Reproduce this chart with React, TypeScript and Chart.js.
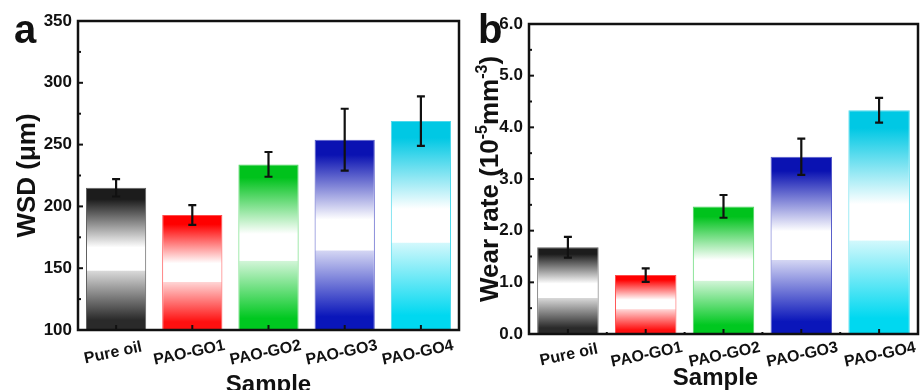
import React, { useEffect, useRef } from "react";
import { Chart, registerables } from "chart.js";

Chart.register(...registerables);

// ---- data ----
const categories = ["Pure oil", "PAO-GO1", "PAO-GO2", "PAO-GO3", "PAO-GO4"];
const wsdValues = [215, 193, 234, 254, 269];
const wsdErrors = [7, 8, 10, 25, 20];
const wearValues = [1.68, 1.14, 2.47, 3.43, 4.33];
const wearErrors = [0.2, 0.13, 0.22, 0.35, 0.24];
const wsdTickRange = [100, 350, 50];
const wearTickRange = [0, 6, 1];
const barTopColors = ["#1c1c1c", "#ff0000", "#00c21c", "#0a12b2", "#00c8e4"];
const barBottomColors = ["#2a2a2a", "#ff1010", "#00c820", "#0a16ba", "#00d8f0"];

const FONT = "'Liberation Sans', Arial, Helvetica, sans-serif";

function hexToRgb(h: string) {
  const n = parseInt(h.slice(1), 16);
  return [(n >> 16) & 255, (n >> 8) & 255, n & 255];
}
function mix(h: string, t: number) {
  const [r, g, b] = hexToRgb(h);
  const f = (c: number) => Math.round(c + (255 - c) * t);
  return `rgb(${f(r)},${f(g)},${f(b)})`;
}

type Part = { text: string; sup?: boolean };
type Panel = {
  letter: string;
  values: number[];
  errors: number[];
  range: number[];
  decimals: number;
  width: number;
  height: number;
  area: { left: number; right: number; top: number; bottom: number };
  titleParts: Part[];
  titleX: number;
  letterX: number;
  labelDx: number;
  labelDy: number;
  sampleBaseline: number;
  sampleDx: number;
  xMinor: boolean;
};

function makePlugin(p: Panel) {
  return {
    id: "custom" + p.letter,
    afterDatasetsDraw(chart: any) {
      const ctx = chart.ctx;
      const xs = chart.scales.x;
      const ys = chart.scales.y;
      ctx.save();
      ctx.strokeStyle = "#111";
      ctx.lineWidth = 2.2;
      p.values.forEach((v, i) => {
        const cx = xs.getPixelForValue(i);
        const t = ys.getPixelForValue(v + p.errors[i]);
        const b = ys.getPixelForValue(v - p.errors[i]);
        ctx.beginPath();
        ctx.moveTo(cx, t);
        ctx.lineTo(cx, b);
        ctx.moveTo(cx - 4, t);
        ctx.lineTo(cx + 4, t);
        ctx.moveTo(cx - 4, b);
        ctx.lineTo(cx + 4, b);
        ctx.stroke();
      });
      ctx.restore();
    },
    afterDraw(chart: any) {
      const ctx = chart.ctx;
      const a = chart.chartArea;
      const xs = chart.scales.x;
      const ys = chart.scales.y;
      ctx.save();
      ctx.strokeStyle = "#111";
      ctx.fillStyle = "#111";
      // ticks on y (inward)
      ctx.lineWidth = 2;
      const [mn, mx, st] = p.range;
      for (let v = mn; v <= mx + 1e-9; v += st / 2) {
        const py = ys.getPixelForValue(v);
        const major = Math.abs((v - mn) / st - Math.round((v - mn) / st)) < 1e-6;
        const len = major ? 5 : 3;
        ctx.beginPath();
        ctx.moveTo(a.left, py);
        ctx.lineTo(a.left + len, py);
        ctx.stroke();
      }
      // x ticks (inward)
      categories.forEach((_, i) => {
        const cx = xs.getPixelForValue(i);
        ctx.beginPath();
        ctx.moveTo(cx, a.bottom);
        ctx.lineTo(cx, a.bottom - 5);
        ctx.stroke();
        if (p.xMinor && i > 0) {
          const mxp = (cx + xs.getPixelForValue(i - 1)) / 2;
          ctx.beginPath();
          ctx.moveTo(mxp, a.bottom);
          ctx.lineTo(mxp, a.bottom - 2);
          ctx.stroke();
        }
      });
      // frame
      ctx.lineWidth = 2.5;
      ctx.strokeRect(a.left, a.top, a.right - a.left, a.bottom - a.top);
      // x labels
      ctx.font = `bold 16px ${FONT}`;
      ctx.textAlign = "center";
      ctx.textBaseline = "middle";
      categories.forEach((c, i) => {
        const cx = xs.getPixelForValue(i);
        ctx.save();
        ctx.translate(cx + p.labelDx, a.bottom + p.labelDy);
        ctx.rotate((-12 * Math.PI) / 180);
        ctx.fillText(c, 0, 0);
        ctx.restore();
      });
      // x title
      ctx.font = `bold 24px ${FONT}`;
      ctx.textBaseline = "alphabetic";
      ctx.fillText("Sample", (a.left + a.right) / 2 + p.sampleDx, p.sampleBaseline);
      // y title with superscripts
      const main = `bold 26px ${FONT}`;
      const sup = `bold 16px ${FONT}`;
      let total = 0;
      const widths = p.titleParts.map((pt) => {
        ctx.font = pt.sup ? sup : main;
        const w = ctx.measureText(pt.text).width;
        total += w;
        return w;
      });
      ctx.save();
      ctx.translate(p.titleX, (a.top + a.bottom) / 2);
      ctx.rotate(-Math.PI / 2);
      ctx.textAlign = "left";
      let xx = -total / 2;
      p.titleParts.forEach((pt, i) => {
        ctx.font = pt.sup ? sup : main;
        ctx.fillText(pt.text, xx, pt.sup ? -11 : 0);
        xx += widths[i];
      });
      ctx.restore();
      // panel letter
      ctx.font = `bold 40px ${FONT}`;
      ctx.textAlign = "left";
      ctx.fillText(p.letter, p.letterX, 43);
      ctx.restore();
    },
  };
}

function PanelChart({ p, left }: { p: Panel; left: number }) {
  const ref = useRef<HTMLCanvasElement | null>(null);
  useEffect(() => {
    if (!ref.current) return;
    const chart = new Chart(ref.current, {
      type: "bar",
      data: {
        labels: categories,
        datasets: [
          {
            data: p.values,
            barPercentage: 0.79,
            categoryPercentage: 1,
            borderWidth: 1,
            borderColor: barTopColors.map((c) => mix(c, 0.3)),
            backgroundColor: (ctx: any) => {
              const i = ctx.dataIndex;
              if (i === undefined) return barTopColors[0];
              const chart = ctx.chart;
              if (!chart.chartArea || !chart.scales.y) return barTopColors[i];
              const ys = chart.scales.y;
              const top = ys.getPixelForValue(p.values[i]);
              const bot = ys.getPixelForValue(ys.min);
              const c0 = barTopColors[i];
              const c1 = barBottomColors[i];
              const g = chart.ctx.createLinearGradient(0, top, 0, bot);
              g.addColorStop(0, c0);
              g.addColorStop(0.08, c0);
              g.addColorStop(0.42, "#ffffff");
              g.addColorStop(0.58, "#ffffff");
              g.addColorStop(0.585, mix(c1, 0.82));
              g.addColorStop(0.93, c1);
              g.addColorStop(1, c1);
              return g;
            },
          },
        ],
      },
      options: {
        responsive: false,
        animation: false,
        layout: {
          padding: {
            top: p.area.top,
            right: p.width - p.area.right,
            left: 0,
            bottom: 0,
          },
        },
        plugins: {
          legend: { display: false },
          tooltip: { enabled: false },
        },
        scales: {
          x: {
            type: "category",
            grid: { display: false, drawTicks: false },
            border: { display: false },
            ticks: { display: false },
            afterFit: (s: any) => {
              s.height = p.height - p.area.bottom;
            },
          },
          y: {
            type: "linear",
            min: p.range[0],
            max: p.range[1],
            beginAtZero: false,
            grid: { display: false, drawTicks: false },
            border: { display: false },
            ticks: {
              stepSize: p.range[2],
              padding: 6,
              color: "#111",
              font: { family: FONT, size: 17, weight: "bold" },
              callback: (v: any) => Number(v).toFixed(p.decimals),
            },
            afterFit: (s: any) => {
              s.width = p.area.left;
            },
          },
        },
      },
      plugins: [makePlugin(p)],
    } as any);
    return () => chart.destroy();
  }, [p]);
  return (
    <canvas
      ref={ref}
      width={p.width}
      height={p.height}
      style={{ position: "absolute", left, top: 0, width: p.width, height: p.height, display: "block" }}
    />
  );
}

const panelA: Panel = {
  letter: "a",
  values: wsdValues,
  errors: wsdErrors,
  range: wsdTickRange,
  decimals: 0,
  width: 462,
  height: 390,
  area: { left: 78, right: 459, top: 21, bottom: 330 },
  titleParts: [{ text: "WSD (μm)" }],
  titleX: 35,
  letterX: 14,
  labelDx: -3,
  labelDy: 23,
  sampleBaseline: 392,
  sampleDx: 0,
  xMinor: false,
};

const panelB: Panel = {
  letter: "b",
  values: wearValues,
  errors: wearErrors,
  range: wearTickRange,
  decimals: 1,
  width: 460,
  height: 390,
  area: { left: 67, right: 456, top: 24, bottom: 334 },
  titleParts: [
    { text: "Wear rate (10" },
    { text: "-5", sup: true },
    { text: "mm" },
    { text: "-3", sup: true },
    { text: ")" },
  ],
  titleX: 36,
  letterX: 16,
  labelDx: 1,
  labelDy: 21,
  sampleBaseline: 385,
  sampleDx: -8,
  xMinor: true,
};

export default function App() {
  return (
    <div style={{ position: "fixed", left: 0, top: 0, width: 922, height: 390, background: "#fff", overflow: "hidden" }}>
      <PanelChart p={panelA} left={0} />
      <PanelChart p={panelB} left={462} />
    </div>
  );
}
